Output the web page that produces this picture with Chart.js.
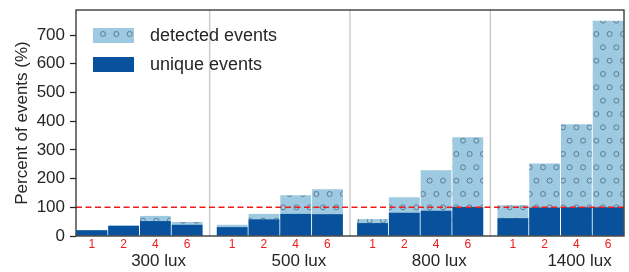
<!DOCTYPE html>
<html>
<head>
<meta charset="utf-8">
<script src="https://cdn.jsdelivr.net/npm/chart.js@4/dist/chart.umd.min.js"></script>
<style>
  html, body { margin: 0; padding: 0; background: #fff; }
</style>
</head>
<body>
<canvas id="chart" width="629" height="272"></canvas>
<script>
// Data
const groups = ['300 lux', '500 lux', '800 lux', '1400 lux'];
const distances = ['1', '2', '4', '6'];
const detected = [
  [21, 38, 70, 49],
  [39, 77, 142, 163],
  [59, 135, 229, 344],
  [107, 253, 389, 750]
];
const unique = [
  [20, 35, 52, 39],
  [31, 58, 77, 76],
  [45, 81, 88, 101],
  [62, 99, 100, 100]
];
const yTicks = [0, 100, 200, 300, 400, 500, 600, 700];
const referenceLine = 100;

// Layout of the bar slots on a linear x axis
const groupStep = 4.42;
const xMin = -0.5;
const xMax = (groups.length - 1) * groupStep + distances.length - 0.5;
const textColor = '#262626';

Chart.defaults.font.family = "'Liberation Sans', Arial, sans-serif";

function slot(g, i) {
  return g * groupStep + i;
}

function toPoints(values) {
  const pts = [];
  values.forEach((row, g) => {
    row.forEach((v, i) => pts.push({ x: slot(g, i), y: v }));
  });
  return pts;
}

// Circle hatch like matplotlib's 'o'
function makeHatch() {
  const c = document.createElement('canvas');
  c.width = 40;
  c.height = 80;
  const g = c.getContext('2d');
  g.fillStyle = '#9ecae1';
  g.fillRect(0, 0, 40, 80);
  g.strokeStyle = 'rgba(75, 100, 125, 0.75)';
  g.lineWidth = 1;
  const step = 40 / 3;
  for (let r = 0; r < 6; r++) {
    for (let i = 0; i < 3; i++) {
      const cx = 9.67 + step * i + (r % 2 ? step / 2 : 0);
      const cy = 7.33 + step * r;
      for (const dx of [-40, 0, 40]) {
        for (const dy of [-80, 0, 80]) {
          g.beginPath();
          g.arc(cx + dx, cy + dy, 2.5, 0, Math.PI * 2);
          g.stroke();
        }
      }
    }
  }
  return g.createPattern(c, 'repeat');
}

const hatch = makeHatch();

// Separator lines, reference line, frame and legend
const decorations = {
  id: 'decorations',
  beforeDatasetsDraw(chart) {
    const { ctx, chartArea, scales } = chart;
    ctx.save();
    ctx.strokeStyle = '#cccccc';
    ctx.lineWidth = 1.5;
    for (let g = 0; g < groups.length - 1; g++) {
      const x = scales.x.getPixelForValue(slot(g, distances.length - 0.5) + (groupStep - distances.length) / 2);
      ctx.beginPath();
      ctx.moveTo(x, chartArea.top);
      ctx.lineTo(x, chartArea.bottom);
      ctx.stroke();
    }
    ctx.restore();
  },
  afterDatasetsDraw(chart) {
    const { ctx, chartArea, scales } = chart;
    ctx.save();
    // reference line
    const y = scales.y.getPixelForValue(referenceLine);
    ctx.strokeStyle = '#ee1c1c';
    ctx.lineWidth = 1.5;
    ctx.setLineDash([6, 3.5]);
    ctx.beginPath();
    ctx.moveTo(chartArea.left, y);
    ctx.lineTo(chartArea.right, y);
    ctx.stroke();
    ctx.setLineDash([]);
    // frame
    ctx.strokeStyle = textColor;
    ctx.lineWidth = 1.25;
    ctx.strokeRect(chartArea.left, chartArea.top, chartArea.right - chartArea.left, chartArea.bottom - chartArea.top);
    // legend
    const items = [chart.data.datasets[1], chart.data.datasets[0]];
    ctx.font = "18px 'Liberation Sans', Arial, sans-serif";
    ctx.textBaseline = 'middle';
    items.forEach((ds, k) => {
      const bx = chartArea.left + 17;
      const by = chartArea.top + 18 + k * 29;
      ctx.fillStyle = ds.backgroundColor;
      ctx.fillRect(bx, by, 41, 15);
      ctx.fillStyle = textColor;
      ctx.fillText(ds.label, bx + 57, by + 8);
    });
    ctx.restore();
  }
};

new Chart(document.getElementById('chart'), {
  type: 'bar',
  data: {
    datasets: [
      {
        label: 'unique events',
        data: toPoints(unique),
        backgroundColor: '#08519c',
        grouped: false,
        barPercentage: 0.97,
        categoryPercentage: 1,
        order: 0
      },
      {
        label: 'detected events',
        data: toPoints(detected),
        backgroundColor: hatch,
        grouped: false,
        barPercentage: 0.97,
        categoryPercentage: 1,
        order: 1
      }
    ]
  },
  options: {
    responsive: false,
    animation: false,
    devicePixelRatio: 1,
    layout: { padding: { top: 10, right: 5, left: 0, bottom: 0 } },
    plugins: {
      legend: { display: false },
      tooltip: { enabled: false }
    },
    scales: {
      x: {
        type: 'linear',
        position: 'bottom',
        weight: 0,
        offset: false,
        min: xMin,
        max: xMax,
        grid: { display: false, drawTicks: false },
        border: { display: false },
        afterBuildTicks(scale) {
          const ticks = [];
          groups.forEach((_, g) => distances.forEach((_, i) => ticks.push({ value: slot(g, i) })));
          scale.ticks = ticks;
        },
        ticks: {
          autoSkip: false,
          maxRotation: 0,
          padding: 3,
          color: '#ee1c1c',
          font: { size: 12, lineHeight: 1 },
          callback: (value, index) => distances[index % distances.length]
        },
        afterFit(scale) { scale.height = 14; }
      },
      x2: {
        type: 'linear',
        position: 'bottom',
        weight: 1,
        offset: false,
        min: xMin,
        max: xMax,
        grid: { display: false, drawTicks: false },
        border: { display: false },
        afterBuildTicks(scale) {
          scale.ticks = groups.map((_, g) => ({ value: slot(g, 2.1) }));
        },
        ticks: {
          autoSkip: false,
          maxRotation: 0,
          padding: 3,
          color: textColor,
          font: { size: 17, lineHeight: 1 },
          callback: (value, index) => groups[index]
        },
        afterFit(scale) { scale.height = 22; }
      },
      y: {
        min: 0,
        max: 787.5,
        afterBuildTicks(scale) {
          scale.ticks = yTicks.map(v => ({ value: v }));
        },
        grid: {
          drawOnChartArea: false,
          drawTicks: true,
          tickLength: 6,
          tickWidth: 1.25,
          tickColor: textColor
        },
        border: { display: false },
        ticks: {
          padding: 5,
          color: textColor,
          font: { size: 17 }
        },
        title: {
          display: true,
          text: 'Percent of events (%)',
          color: textColor,
          font: { size: 17 },
          padding: { top: 12, bottom: 0 }
        },
        afterFit(scale) {
          scale.width = 76;
          scale.paddingTop = 0;
          scale.paddingBottom = 0;
        }
      }
    }
  },
  plugins: [decorations]
});
</script>
</body>
</html>
